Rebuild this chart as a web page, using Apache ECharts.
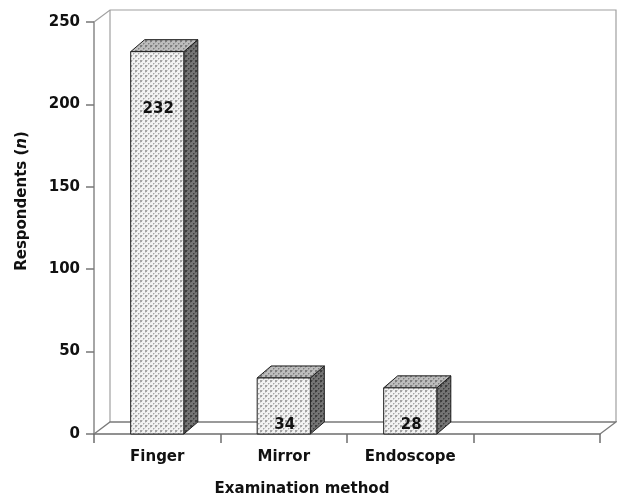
<!DOCTYPE html>
<html>
<head>
<meta charset="utf-8">
<script src="https://cdn.jsdelivr.net/npm/echarts@6/dist/echarts.min.js"></script>
<style>
  html, body { margin: 0; padding: 0; background: #ffffff; }
  #chart { width: 617px; height: 499px; }
</style>
</head>
<body>
<div id="chart"></div>
<script>
// Examination methods reported by respondents
const categories = ['Finger', 'Mirror', 'Endoscope', ''];
const respondents = [232, 34, 28];
const yMin = 0;
const yMax = 250;
const yStep = 50;

const FONT = 'DejaVu Sans';

// Small stippled tile used as the fill of each box face
function stipple(bg, dot, soft) {
  const c = document.createElement('canvas');
  c.width = 5; c.height = 5;
  const g = c.getContext('2d');
  g.fillStyle = bg; g.fillRect(0, 0, 5, 5);
  g.fillStyle = soft;
  g.fillRect(2, 0, 1, 1); g.fillRect(0, 2, 1, 1); g.fillRect(4, 3, 1, 1); g.fillRect(3, 4, 1, 1);
  g.fillStyle = dot;
  g.fillRect(0, 0, 2, 2); g.fillRect(3, 3, 1, 1);
  return { image: c, repeat: 'repeat' };
}
const frontFill = stipple('#f2f2f2', '#a4a4a4', '#d0d0d0');
const topFill = stipple('#bdbdbd', '#7e7e7e', '#a2a2a2');
const sideFill = stipple('#747474', '#3e3e3e', '#5c5c5c');

const chart = echarts.init(document.getElementById('chart'), null, { renderer: 'canvas' });

// Back wall and floor of the 3-D frame, derived from the grid rectangle
function renderFrame(params, api) {
  const cs = params.coordSys;
  const dx = 16, dy = -12;
  const xl = cs.x, xr = cs.x + cs.width, yt = cs.y, yb = cs.y + cs.height;
  const line = { stroke: '#a0a0a0', lineWidth: 1.2, fill: null };
  return {
    type: 'group',
    children: [
      { type: 'polyline', shape: { points: [[xl, yt], [xl + dx, yt + dy], [xr + dx, yt + dy], [xr + dx, yb + dy]] }, style: line },
      { type: 'line', shape: { x1: xl + dx, y1: yt + dy, x2: xl + dx, y2: yb + dy }, style: line },
      { type: 'polyline', shape: { points: [[xl, yb], [xl + dx, yb + dy], [xr + dx, yb + dy], [xr, yb]] }, style: { stroke: '#7a7a7a', lineWidth: 1.3, fill: null } }
    ]
  };
}

// Each value drawn as a box: front face, top face and right side face
function renderBox(params, api) {
  const idx = api.value(0);
  const val = api.value(1);
  const top = api.coord([idx, val]);
  const base = api.coord([idx, 0]);
  const w = api.size([1, 0])[0] * 0.42;
  const dx = 14, dy = -12;
  const x0 = top[0] - w / 2, x1 = top[0] + w / 2;
  const yt = top[1], yb = base[1];
  const edge = { stroke: '#1e1e1e', lineWidth: 1 };
  const labelY = Math.min(yt + 57, yb - 9);
  return {
    type: 'group',
    children: [
      { type: 'polygon', shape: { points: [[x1, yt], [x1 + dx, yt + dy], [x1 + dx, yb + dy], [x1, yb]] },
        style: Object.assign({ fill: sideFill }, edge) },
      { type: 'polygon', shape: { points: [[x0, yt], [x1, yt], [x1 + dx, yt + dy], [x0 + dx, yt + dy]] },
        style: Object.assign({ fill: topFill }, edge) },
      { type: 'rect', shape: { x: x0, y: yt, width: w, height: yb - yt },
        style: Object.assign({ fill: frontFill }, edge) },
      { type: 'text', x: top[0] + 1, y: labelY,
        style: { text: String(val), fill: '#111', font: 'bold 15px "' + FONT + '"', align: 'center', verticalAlign: 'middle' } }
    ]
  };
}

const boxData = respondents.map((v, i) => [i, v]);

chart.setOption({
  backgroundColor: '#ffffff',
  animation: false,
  grid: { left: 94, right: 17, top: 22, bottom: 65, containLabel: false, outerBoundsMode: 'none' },
  xAxis: {
    type: 'category',
    data: categories,
    boundaryGap: true,
    name: 'Examination method',
    nameLocation: 'middle',
    nameGap: 48,
    nameTextStyle: { fontFamily: FONT, fontWeight: 'bold', fontSize: 15, color: '#111', padding: [0, 90, 0, 0] },
    axisLine: { show: true, lineStyle: { color: '#6e6e6e', width: 1.5 } },
    axisTick: { show: true, interval: 0, alignWithLabel: false, length: 9, lineStyle: { color: '#6e6e6e', width: 1.5 } },
    axisLabel: { interval: 0, margin: 16, fontFamily: FONT, fontWeight: 'bold', fontSize: 15, color: '#111' },
    splitLine: { show: false }
  },
  yAxis: {
    type: 'value',
    min: yMin,
    max: yMax,
    interval: yStep,
    name: 'Respondents ({i|n})',
    nameLocation: 'middle',
    nameGap: 64,
    nameRotate: 90,
    nameTextStyle: {
      fontFamily: FONT, fontWeight: 'bold', fontSize: 15, color: '#111', padding: [0, 0, 0, 54],
      rich: { i: { fontFamily: FONT, fontWeight: 'bold', fontStyle: 'italic', fontSize: 15, color: '#111' } }
    },
    axisLine: { show: true, lineStyle: { color: '#888', width: 1.5 } },
    axisTick: { show: true, length: 8, lineStyle: { color: '#777', width: 1.5 } },
    axisLabel: { margin: 14, fontFamily: FONT, fontWeight: 'bold', fontSize: 15, color: '#111' },
    splitLine: { show: false }
  },
  series: [
    { type: 'custom', name: 'frame', renderItem: renderFrame, data: [[0, 0]], z: 1, silent: true },
    { type: 'custom', name: 'Respondents', renderItem: renderBox, data: boxData, encode: { x: 0, y: 1 }, z: 2 }
  ]
});
</script>
</body>
</html>
